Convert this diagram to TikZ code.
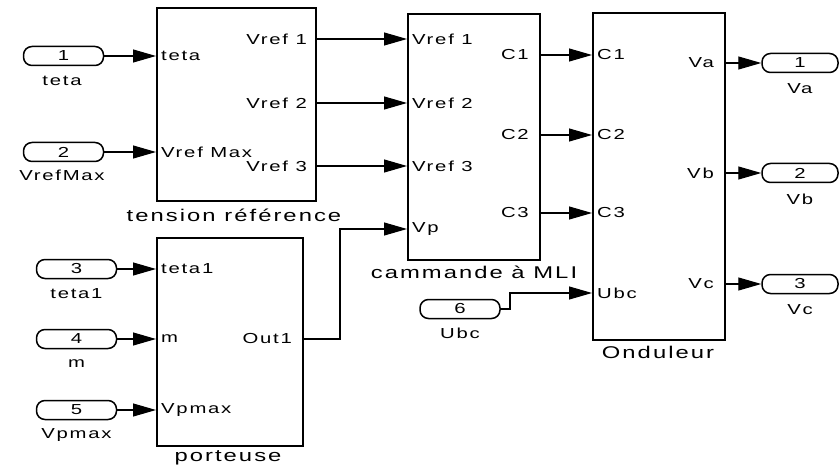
\documentclass[tikz,border=0pt]{standalone}
\usepackage{fontspec}
\setmainfont{Liberation Sans}[FakeStretch=1.4,LetterSpace=12]
\usetikzlibrary{arrows.meta}
\begin{document}
\begin{tikzpicture}[x=1pt,y=-1pt,
  blk/.style={draw,line width=1.7pt,anchor=north west,inner sep=0pt},
  port/.style={draw,line width=1.5pt,rounded corners=8.5pt,minimum width=80pt,minimum height=19pt,inner sep=0pt,font=\fontsize{14.5}{14.5}\selectfont},
  plab/.style={font=\fontsize{14.5}{14.5}\selectfont,inner sep=0pt},
  blab/.style={font=\fontsize{17}{17}\selectfont,inner sep=0pt},
  sig/.style={line width=1.1pt,-{Triangle[length=23pt,width=13pt]}},
  wire/.style={line width=1.1pt}]
\useasboundingbox (0,0) rectangle (840,465);
\fill[white] (0,0) rectangle (840,465);
% blocks
\node[blk,minimum width=159pt,minimum height=193pt] (tr) at (156,7) {};
\node[blk,minimum width=146pt,minimum height=208pt] (po) at (156,237) {};
\node[blk,minimum width=132pt,minimum height=246pt] (cm) at (407,13) {};
\node[blk,minimum width=132pt,minimum height=327pt] (ond) at (592,12) {};
\node[blab] (trl) at (234,215) {tension référence};
\node[blab] (pol) at (228,458) {porteuse};
\node[blab] (cml) at (474,272) {cammande à MLI};
\node[blab] (ondl) at (658,352) {Onduleur};
% inports
\node[port] (p1) at (63.5,56) {1};
\node[plab] (p1l) at (62,81) {teta};
\node[port] (p2) at (63.5,152) {2};
\node[plab] (p2l) at (62,175) {VrefMax};
\node[port] (p3) at (76.5,269) {3};
\node[plab] (p3l) at (76.5,294) {teta1};
\node[port] (p4) at (76.5,339) {4};
\node[plab] (p4l) at (76.5,364) {m};
\node[port] (p5) at (76.5,410) {5};
\node[plab] (p5l) at (76.5,435) {Vpmax};
\node[port] (p6) at (460,309) {6};
\node[plab] (p6l) at (460,333) {Ubc};
% outports
\node[port,minimum width=76pt] (o1) at (800,63) {1};
\node[plab] (o1l) at (800,89) {Va};
\node[port,minimum width=76pt] (o2) at (800,173) {2};
\node[plab] (o2l) at (800,199) {Vb};
\node[port,minimum width=76pt] (o3) at (800,284) {3};
\node[plab] (o3l) at (800,310) {Vc};
% port labels: tension reference
\node[plab,anchor=west] (tri1) at (161,56) {teta};
\node[plab,anchor=west] (tri2) at (161,152) {Vref Max};
\node[plab,anchor=east] (tro1) at (307,39) {Vref 1};
\node[plab,anchor=east] (tro2) at (307,103) {Vref 2};
\node[plab,anchor=east] (tro3) at (307,166) {Vref 3};
% porteuse
\node[plab,anchor=west] (poi1) at (161,269) {teta1};
\node[plab,anchor=west] (poi2) at (161,339) {m};
\node[plab,anchor=west] (poi3) at (161,410) {Vpmax};
\node[plab,anchor=east] (poo1) at (292,339) {Out1};
% cammande
\node[plab,anchor=west] (cmi1) at (412,39) {Vref 1};
\node[plab,anchor=west] (cmi2) at (412,103) {Vref 2};
\node[plab,anchor=west] (cmi3) at (412,166) {Vref 3};
\node[plab,anchor=west] (cmi4) at (412,229) {Vp};
\node[plab,anchor=east] (cmo1) at (529,55) {C1};
\node[plab,anchor=east] (cmo2) at (529,135) {C2};
\node[plab,anchor=east] (cmo3) at (529,213) {C3};
% onduleur
\node[plab,anchor=west] (oi1) at (597,55) {C1};
\node[plab,anchor=west] (oi2) at (597,135) {C2};
\node[plab,anchor=west] (oi3) at (597,213) {C3};
\node[plab,anchor=west] (oi4) at (597,293) {Ubc};
\node[plab,anchor=east] (oo1) at (714,63) {Va};
\node[plab,anchor=east] (oo2) at (714,173) {Vb};
\node[plab,anchor=east] (oo3) at (714,284) {Vc};
% bend points
\coordinate (k1) at (340,0);
\coordinate (k2) at (510,0);
% connectors
\draw[sig] (p1.east) -- (p1 -| tr.west);
\draw[sig] (p2.east) -- (p2 -| tr.west);
\draw[sig] (p3.east) -- (p3 -| po.west);
\draw[sig] (p4.east) -- (p4 -| po.west);
\draw[sig] (p5.east) -- (p5 -| po.west);
\draw[sig] (tro1 -| tr.east) -- (tro1 -| cm.west);
\draw[sig] (tro2 -| tr.east) -- (tro2 -| cm.west);
\draw[sig] (tro3 -| tr.east) -- (tro3 -| cm.west);
\draw[sig] (poo1 -| po.east) -- (poo1 -| k1) -- (cmi4 -| k1) -- (cmi4 -| cm.west);
\draw[sig] (cmo1 -| cm.east) -- (cmo1 -| ond.west);
\draw[sig] (cmo2 -| cm.east) -- (cmo2 -| ond.west);
\draw[sig] (cmo3 -| cm.east) -- (cmo3 -| ond.west);
\draw[sig] (p6.east) -- (p6 -| k2) -- (oi4 -| k2) -- (oi4 -| ond.west);
\draw[sig] (oo1 -| ond.east) -- (o1.west);
\draw[sig] (oo2 -| ond.east) -- (o2.west);
\draw[sig] (oo3 -| ond.east) -- (o3.west);
\end{tikzpicture}
\end{document}
